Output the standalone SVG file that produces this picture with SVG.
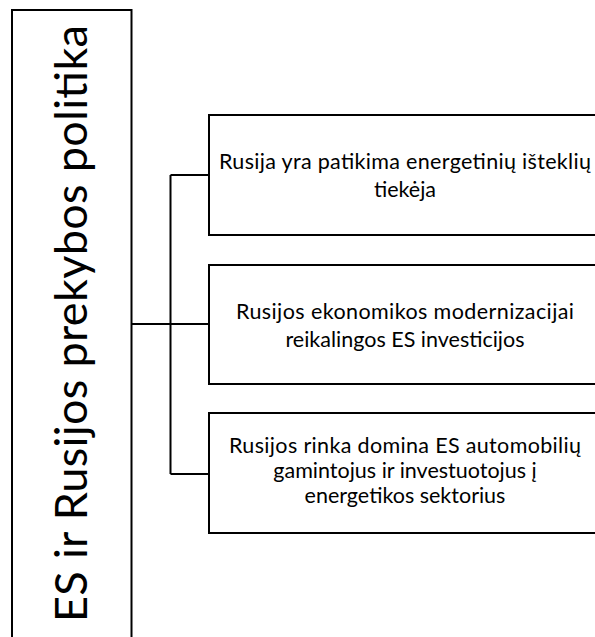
<svg xmlns="http://www.w3.org/2000/svg" width="595" height="637" viewBox="0 0 595 637">
<style>
.box{fill:#fff;stroke:#000;stroke-width:2}
.conn{fill:none;stroke:#000;stroke-width:2}
.main{font-family:Lato,"Liberation Sans",sans-serif;font-size:45px;fill:#000}
.lbl{font-family:Lato,"Liberation Sans",sans-serif;font-size:21.5px;fill:#000;text-anchor:middle}
</style>
<rect width="595" height="637" fill="#fff"/>
<g id="connectors">
<path class="conn" d="M131.5 324H209M170.5 175V474M170.5 175H209M170.5 474H209"/>
</g>
<g id="main">
<rect class="box" x="12" y="10" width="119.5" height="640"/>
<text class="main" transform="translate(86.5,622) rotate(-90)" x="0" y="0" textLength="597">ES ir Rusijos prekybos politika</text>
</g>
<g id="node1">
<rect class="box" x="209" y="115" width="395" height="120"/>
<text class="lbl" x="405" y="169" textLength="372">Rusija yra patikima energetinių išteklių</text>
<text class="lbl" x="405" y="197">tiekėja</text>
</g>
<g id="node2">
<rect class="box" x="209" y="265" width="395" height="119"/>
<text class="lbl" x="405" y="319" textLength="338">Rusijos ekonomikos modernizacijai</text>
<text class="lbl" x="405" y="347">reikalingos ES investicijos</text>
</g>
<g id="node3">
<rect class="box" x="209" y="413" width="395" height="120"/>
<text class="lbl" x="405" y="453" textLength="352">Rusijos rinka domina ES automobilių</text>
<text class="lbl" x="405" y="478">gamintojus ir investuotojus į</text>
<text class="lbl" x="405" y="503">energetikos sektorius</text>
</g>
</svg>
